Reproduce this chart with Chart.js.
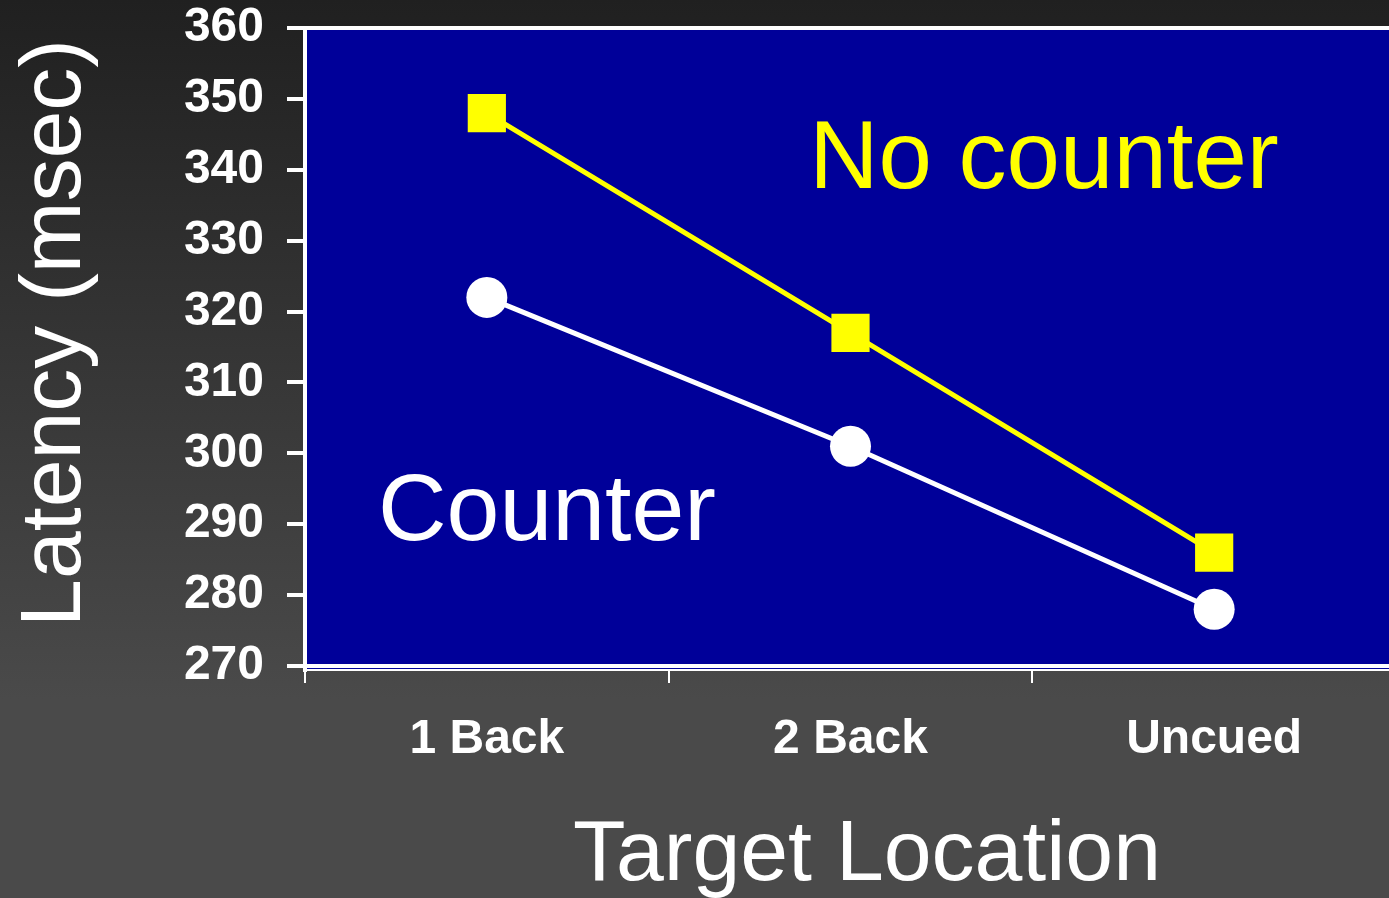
<!DOCTYPE html>
<html>
<head>
<meta charset="utf-8">
<style>
  html, body { margin: 0; padding: 0; overflow: hidden; background: #4a4a4a; }
  canvas { display: block; }
</style>
<script src="https://cdn.jsdelivr.net/npm/chart.js@4.4.1/dist/chart.umd.min.js"></script>
</head>
<body>
<canvas id="c" width="1396" height="898"></canvas>
<script>
const categories = ['1 Back', '2 Back', 'Uncued'];
const noCounter = [348, 317, 286];
const counter = [322, 301, 278];
const yTickValues = [270, 280, 290, 300, 310, 320, 330, 340, 350, 360];
const seriesNames = ['No counter', 'Counter'];
const yTitle = 'Latency (msec)';
const xTitle = 'Target Location';

const FONT = "'Liberation Sans', Arial, sans-serif";

const decorPlugin = {
  id: 'decor',
  beforeDraw(chart) {
    const ctx = chart.ctx;
    const ca = chart.chartArea;
    const y = chart.scales.y;
    ctx.save();
    const g = ctx.createLinearGradient(0, 0, 0, chart.height);
    g.addColorStop(0, '#202020');
    g.addColorStop(0.78, '#4a4a4a');
    g.addColorStop(1, '#4a4a4a');
    ctx.fillStyle = g;
    ctx.fillRect(0, 0, chart.width, chart.height);
    const yBottom = y.getPixelForValue(yTickValues[0]);
    ctx.fillStyle = '#000099';
    ctx.fillRect(ca.left, ca.top, ca.right - ca.left, ca.bottom - ca.top);
    ctx.strokeStyle = '#ffffff';
    ctx.lineWidth = 4;
    ctx.beginPath();
    ctx.moveTo(ca.left, ca.top);
    ctx.lineTo(ca.right, ca.top);
    ctx.moveTo(ca.left, yBottom);
    ctx.lineTo(ca.right, yBottom);
    ctx.stroke();
    ctx.restore();
  },
  afterDraw(chart) {
    const ctx = chart.ctx;
    ctx.save();
    ctx.textBaseline = 'alphabetic';
    ctx.textAlign = 'center';
    // annotations
    ctx.font = '96px ' + FONT;
    ctx.fillStyle = '#ffff00';
    ctx.fillText(seriesNames[0], 1044, 188);
    ctx.font = '95px ' + FONT;
    ctx.fillStyle = '#ffffff';
    ctx.fillText(seriesNames[1], 547, 540);
    // axis titles
    ctx.font = '86px ' + FONT;
    ctx.fillStyle = '#ffffff';
    ctx.fillText(xTitle, 867, 880);
    ctx.translate(80, 333);
    ctx.rotate(-Math.PI / 2);
    ctx.fillText(yTitle, 0, 0);
    ctx.restore();
  }
};

// 270 sits 4px above the x axis line, 360 at the top of the plot
const yMin = 270 - 4 * 90 / 638;

function noPad(s) {
  s.paddingTop = 0; s.paddingBottom = 0; s.paddingLeft = 0; s.paddingRight = 0;
}

new Chart(document.getElementById('c'), {
  type: 'line',
  data: {
    labels: categories,
    datasets: [
      {
        label: seriesNames[1],
        data: counter,
        borderColor: '#ffffff',
        backgroundColor: '#ffffff',
        borderWidth: 5,
        pointStyle: 'circle',
        pointRadius: 20.5,
        pointBorderWidth: 0,
        pointBackgroundColor: '#ffffff',
        tension: 0
      },
      {
        label: seriesNames[0],
        data: noCounter,
        borderColor: '#ffff00',
        backgroundColor: '#ffff00',
        borderWidth: 5,
        pointStyle: 'rect',
        pointRadius: 27,
        pointBorderWidth: 0,
        pointBackgroundColor: '#ffff00',
        tension: 0
      }
    ]
  },
  options: {
    responsive: false,
    animation: false,
    events: [],
    layout: { autoPadding: false, padding: { top: 28, left: 0, right: 0, bottom: 0 } },
    plugins: { legend: { display: false }, tooltip: { enabled: false } },
    scales: {
      x: {
        type: 'category',
        offset: true,
        afterFit(s) { s.height = 898 - 670; noPad(s); },
        grid: {
          offset: true,
          drawOnChartArea: false,
          tickLength: 13,
          color: '#ffffff',
          lineWidth: 2
        },
        border: { color: '#ffffff', width: 2 },
        ticks: {
          color: '#ffffff',
          padding: 28,
          maxRotation: 0,
          autoSkip: false,
          font: { family: FONT, size: 48, weight: 'bold' }
        }
      },
      y: {
        type: 'linear',
        min: yMin,
        max: 360,
        afterFit(s) { s.width = 305; noPad(s); },
        afterBuildTicks(s) { s.ticks = yTickValues.map(v => ({ value: v })); },
        grid: {
          drawOnChartArea: false,
          tickLength: 18,
          color: '#ffffff',
          lineWidth: 4
        },
        border: { color: '#ffffff', width: 4 },
        ticks: {
          color: '#ffffff',
          padding: 23,
          font: { family: FONT, size: 48, weight: 'bold', lineHeight: 1 },
          callback: v => String(v)
        }
      }
    }
  },
  plugins: [decorPlugin]
});
</script>
</body>
</html>
